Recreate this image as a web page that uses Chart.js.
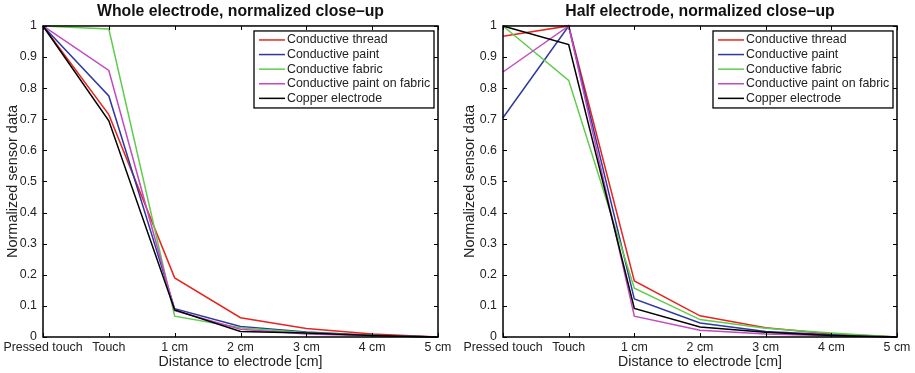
<!DOCTYPE html>
<html>
<head>
<meta charset="utf-8">
<script src="https://cdn.jsdelivr.net/npm/chart.js@4.4.0/dist/chart.umd.min.js"></script>
<style>
    html, body { margin: 0; padding: 0; background: #fff; }
    .plot { position: absolute; top: 0; height: 373px; }
</style>
</head>
<body>
<div class="plot" style="left:0; width:457px;"><canvas id="whole-chart"></canvas></div>
<div class="plot" style="left:457px; width:458px;"><canvas id="half-chart"></canvas></div>

<script>
    // categories on the x axis
    const distances = ['Pressed touch', 'Touch', '1 cm', '2 cm', '3 cm', '4 cm', '5 cm'];
    const seriesNames = ['Conductive thread', 'Conductive paint', 'Conductive fabric', 'Conductive paint on fabric', 'Copper electrode'];
    const seriesColors = ['#e8251e', '#2a3aa0', '#5fcc4c', '#c44ac0', '#000000'];

    // whole electrode
    const wholeThread = [1, 0.715, 0.19, 0.062, 0.027, 0.01, 0];
    const wholePaint = [1, 0.775, 0.091, 0.034, 0.016, 0.006, 0];
    const wholeFabric = [1, 0.99, 0.067, 0.03, 0.014, 0.005, 0];
    const wholePaintOnFabric = [1, 0.857, 0.085, 0.025, 0.01, 0.004, 0];
    const wholeCopper = [1, 0.695, 0.087, 0.018, 0.013, 0.005, 0];

    // half electrode
    const halfThread = [0.967, 1, 0.18, 0.068, 0.03, 0.01, 0];
    const halfPaint = [0.705, 1, 0.122, 0.045, 0.018, 0.007, 0];
    const halfFabric = [1, 0.825, 0.157, 0.056, 0.028, 0.013, 0];
    const halfPaintOnFabric = [0.852, 1, 0.067, 0.022, 0.01, 0.004, 0];
    const halfCopper = [1, 0.94, 0.092, 0.032, 0.015, 0.005, 0];

    const fontFamily = '"Liberation Sans", Arial, Helvetica, sans-serif';

    // box, inward ticks and the legend inside the plot
    const frameAndLegend = {
        id: 'frameAndLegend',
        afterDraw(chart) {
            const {ctx, chartArea: a, scales: {x, y}} = chart;
            ctx.save();
            ctx.strokeStyle = '#000';
            ctx.lineWidth = 1;
            ctx.beginPath();
            x.ticks.forEach((t, i) => {
                const px = Math.round(x.getPixelForTick(i)) + 0.5;
                ctx.moveTo(px, a.bottom); ctx.lineTo(px, a.bottom - 4);
                ctx.moveTo(px, a.top); ctx.lineTo(px, a.top + 4);
            });
            y.ticks.forEach((t, i) => {
                const py = Math.round(y.getPixelForTick(i)) + 0.5;
                ctx.moveTo(a.left, py); ctx.lineTo(a.left + 4, py);
                ctx.moveTo(a.right, py); ctx.lineTo(a.right - 4, py);
            });
            ctx.stroke();

            ctx.lineWidth = 1.5;
            ctx.strokeRect(a.left, a.top, a.right - a.left, a.bottom - a.top);

            // legend box
            const bw = 180, bh = 77;
            const bx = a.right - 4 - bw, by = a.top + 5;
            ctx.fillStyle = '#fff';
            ctx.fillRect(bx, by, bw, bh);
            ctx.lineWidth = 1.3;
            ctx.strokeRect(bx, by, bw, bh);
            ctx.font = '12.4px ' + fontFamily;
            ctx.textBaseline = 'middle';
            chart.data.datasets.forEach((ds, i) => {
                const ry = by + 9 + i * 14.6;
                ctx.strokeStyle = ds.borderColor;
                ctx.lineWidth = 1.5;
                ctx.beginPath();
                ctx.moveTo(bx + 5, ry); ctx.lineTo(bx + 31, ry);
                ctx.stroke();
                ctx.fillStyle = '#222';
                ctx.fillText(ds.label, bx + 33, ry);
            });
            ctx.restore();
        }
    };

    function buildChart(canvasId, title, seriesData, yWidth, rightPad) {
        const ctx = document.getElementById(canvasId).getContext('2d');
        return new Chart(ctx, {
            type: 'line',
            data: {
                labels: distances,
                datasets: seriesData.map((values, i) => ({
                    label: seriesNames[i],
                    data: values,
                    borderColor: seriesColors[i],
                    borderWidth: 1.5,
                    pointRadius: 0,
                    fill: false,
                    tension: 0,
                    clip: 2,
                    // later series drawn on top, like the original
                    order: seriesNames.length - i
                }))
            },
            plugins: [frameAndLegend],
            options: {
                responsive: true,
                maintainAspectRatio: false,
                animation: false,
                layout: {padding: {left: 0, right: rightPad, top: 0, bottom: 0}},
                plugins: {
                    legend: {display: false},
                    tooltip: {enabled: false},
                    title: {
                        display: true,
                        text: title,
                        fullSize: false,
                        color: '#111',
                        font: {family: fontFamily, size: 15.8, weight: 'bold'},
                        padding: {top: 2, bottom: 5}
                    }
                },
                scales: {
                    x: {
                        type: 'category',
                        offset: false,
                        grid: {display: false, drawTicks: false},
                        border: {display: false},
                        ticks: {
                            color: '#222',
                            maxRotation: 0,
                            autoSkip: false,
                            padding: 3,
                            font: {family: fontFamily, size: 12.4}
                        },
                        title: {
                            display: true,
                            text: 'Distance to electrode [cm]',
                            color: '#222',
                            font: {family: fontFamily, size: 14.2},
                            padding: {top: 0, bottom: 2}
                        },
                        afterFit(scale) { scale.height = 36; }
                    },
                    y: {
                        min: 0,
                        max: 1,
                        grid: {display: false, drawTicks: false},
                        border: {display: false},
                        ticks: {
                            stepSize: 0.1,
                            color: '#222',
                            padding: 6,
                            font: {family: fontFamily, size: 12.4},
                            callback: v => String(Math.round(v * 10) / 10)
                        },
                        title: {
                            display: true,
                            text: 'Normalized sensor data',
                            color: '#222',
                            font: {family: fontFamily, size: 14.5},
                            padding: {top: 4, bottom: 4}
                        },
                        afterFit(scale) { scale.width = yWidth; }
                    }
                }
            }
        });
    }

    document.addEventListener('DOMContentLoaded', () => {
        buildChart('whole-chart', 'Whole electrode, normalized close\u2013up',
            [wholeThread, wholePaint, wholeFabric, wholePaintOnFabric, wholeCopper], 43, 19);
        buildChart('half-chart', 'Half electrode, normalized close\u2013up',
            [halfThread, halfPaint, halfFabric, halfPaintOnFabric, halfCopper], 46, 18);
    });
</script>
</body>
</html>
